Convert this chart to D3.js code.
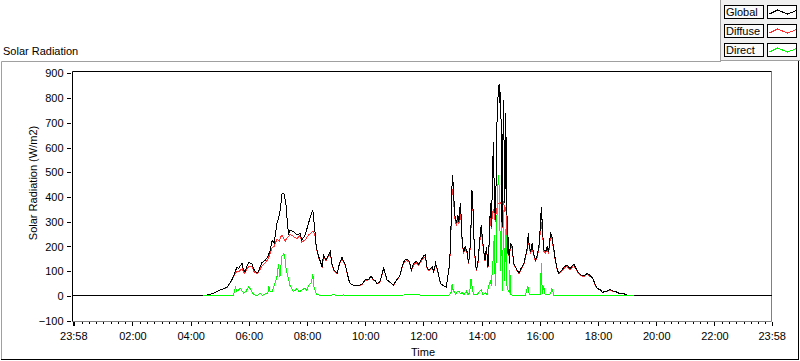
<!DOCTYPE html>
<html><head><meta charset="utf-8">
<script src="https://cdn.jsdelivr.net/npm/d3@7"></script>
<style>
html,body{margin:0;padding:0;background:#fff;}
svg{display:block;font-family:"Liberation Sans",Arial,sans-serif;font-size:11px;}
</style></head><body>
<svg id="chart" width="800" height="361"></svg>
<script>
// ---------------- DATA ----------------
const chartTitle = "Solar Radiation";
const yAxisTitle = "Solar Radiation (W/m2)";
const xAxisTitle = "Time";
const seriesNames = ["Global", "Diffuse", "Direct"];
const seriesColors = ["#000000", "#ff3333", "#00ff00"];
const yTickValues = [-100, 0, 100, 200, 300, 400, 500, 600, 700, 800, 900];
const xTickLabels = ["23:58","02:00","04:00","06:00","08:00","10:00","12:00","14:00","16:00","18:00","20:00","22:00","23:58"];

// times shared by Global and Diffuse (first entry is 23:58 of the previous day)
const time = ["23:58","04:26","04:47","05:01","05:15","05:25","05:32","05:35","05:39","05:46","05:49","05:52","05:59","06:06","06:10","06:17","06:20","06:27","06:34","06:39","06:44","06:48","06:52","06:58","07:03","07:06","07:08","07:12","07:15","07:17","07:20","07:22","07:25","07:32","07:39","07:46","07:49","07:56","08:03","08:09","08:12","08:16","08:19","08:24","08:31","08:34","08:39","08:44","08:48","08:51","08:55","09:02","09:07","09:12","09:19","09:22","09:26","09:29","09:36","09:46","09:53","10:00","10:07","10:12","10:17","10:21","10:24","10:30","10:35","10:38","10:41","10:45","10:52","10:58","11:05","11:11","11:16","11:21","11:26","11:31","11:35","11:40","11:45","11:50","11:56","12:00","12:04","12:07","12:11","12:18","12:21","12:25","12:29","12:35","12:42","12:47","12:50","12:54","12:57","12:59","13:00","13:02","13:04","13:08","13:11","13:13","13:16","13:18","13:20","13:23","13:26","13:30","13:33","13:37","13:40","13:42","13:45","13:49","13:52","13:56","13:59","14:02","14:04","14:07","14:10","14:13","14:16","14:18","14:20","14:22","14:24","14:26","14:28","14:30","14:32","14:34","14:36","14:37","14:39","14:41","14:42","14:43","14:45","14:46","14:48","14:49","14:51","14:53","14:55","14:57","14:59","15:03","15:06","15:10","15:13","15:17","15:21","15:27","15:30","15:34","15:36","15:38","15:41","15:44","15:47","15:51","15:54","15:58","16:01","16:03","16:06","16:08","16:12","16:15","16:18","16:22","16:25","16:29","16:32","16:36","16:39","16:46","16:49","16:56","17:02","17:10","17:18","17:24","17:31","17:38","17:44","17:49","17:53","17:58","18:05","18:09","18:16","18:25","18:30","18:36","18:43","18:53","19:00","19:14","23:58"];

const globalRad = [0,0,11,24,35,65,98,116,112,132,105,98,134,132,108,92,102,135,145,159,183,226,213,294,327,368,412,415,388,361,280,253,267,260,246,253,226,246,294,334,345,267,199,159,118,166,145,166,179,132,105,92,132,156,125,99,65,51,42,42,47,65,67,81,65,62,50,56,92,112,92,65,55,44,65,81,118,145,148,140,105,132,140,128,148,162,166,118,105,118,98,132,105,51,40,36,78,132,294,455,489,428,334,294,327,300,374,314,213,179,199,179,132,213,428,361,186,105,132,226,287,226,186,145,199,118,240,374,280,441,623,428,307,482,751,812,856,778,825,576,280,509,792,643,374,738,576,172,240,132,213,199,132,118,105,92,110,132,159,193,253,206,179,213,172,145,159,199,280,361,253,186,179,199,179,253,240,186,145,105,92,105,116,125,110,129,98,85,81,92,81,72,51,31,24,15,18,27,20,18,11,9,4,0,0];

const diffuseRad = [null,0,11,24,34,62,90,100,98,110,95,92,118,120,100,88,96,122,135,148,170,195,200,230,222,240,245,232,222,230,236,240,250,240,232,246,218,226,246,255,262,250,195,155,115,160,142,160,172,130,103,90,128,150,122,97,64,50,42,41,46,63,65,77,63,60,49,55,90,108,90,64,54,43,64,79,115,140,143,136,102,127,135,124,142,155,158,115,102,113,96,126,102,50,40,36,76,125,280,420,430,400,320,285,310,290,330,300,205,175,190,172,128,205,410,350,180,102,125,215,265,215,180,140,190,115,230,320,270,330,350,330,300,340,360,375,370,365,380,360,275,350,385,370,340,360,330,168,232,128,205,192,128,115,102,90,106,128,152,185,238,198,172,202,166,140,152,190,262,300,240,180,172,190,172,240,230,180,140,102,90,102,110,120,106,124,95,82,78,88,78,70,48,30,23,15,17,24,19,17,11,9,4,0,null];

const directTime = ["04:26","05:28","05:32","05:35","05:39","05:42","05:49","05:54","05:59","06:03","06:06","06:10","06:17","06:23","06:28","06:34","06:39","06:41","06:44","06:48","06:54","06:58","07:01","07:04","07:08","07:12","07:15","07:17","07:22","07:25","07:32","07:39","07:44","07:49","07:56","07:59","08:03","08:09","08:12","08:14","08:19","08:26","08:40","08:55","09:02","09:16","09:29","09:50","10:10","10:35","11:00","11:20","11:45","12:00","12:14","12:52","12:57","12:59","13:01","13:06","13:09","13:13","13:16","13:20","13:23","13:29","13:31","13:35","13:38","13:41","13:43","13:50","13:56","13:59","14:03","14:08","14:11","14:14","14:18","14:20","14:22","14:24","14:26","14:28","14:30","14:32","14:34","14:35","14:37","14:39","14:41","14:43","14:45","14:47","14:50","14:52","14:55","14:57","14:58","15:00","15:06","15:30","15:35","15:38","15:47","16:01","16:03","16:05","16:08","16:11","16:22","16:25","16:29","17:03","17:46","17:48","19:14"];
const directRad = [0,0,35,20,24,32,12,18,36,29,19,5,1,12,3,9,9,39,18,18,52,78,127,78,159,172,145,105,65,41,18,29,16,24,32,22,41,55,87,39,7,3,1,5,2,4,1,2,1,3,1,4,5,3,1,1,15,48,25,8,15,20,8,15,5,20,5,12,67,30,8,5,18,25,5,12,5,36,63,40,105,159,246,40,159,361,469,489,380,100,294,20,347,60,270,40,20,15,105,5,1,2,40,8,5,5,132,8,40,5,8,30,3,2,2,0,0];

// ---------------- HELPERS ----------------
function toMinutes(s, i) {
  const [h, m] = s.split(":").map(Number);
  let v = h * 60 + m;
  if (i === 0 && v > 720) v -= 1440; // previous day start
  return v;
}
const tMin = time.map(toMinutes);
const dMin = directTime.map(toMinutes);
const xTickVals = xTickLabels.map(toMinutes);

// ---------------- LAYOUT ----------------
const svg = d3.select("#chart");
const plot = {left: 72.5, right: 771.5, top: 71.5, bottom: 321.5};
const x = d3.scaleLinear().domain([xTickVals[0], xTickVals[xTickVals.length - 1]]).range([73.3, 771.7]);
const y = d3.scaleLinear().domain([-100, 900]).range([320.7, 73.3]);

// outer frame
svg.append("line").attr("x1",1.5).attr("x2",1.5).attr("y1",61.5).attr("y2",359.5).attr("stroke","#a0a0a0");
svg.append("line").attr("x1",1.5).attr("x2",721).attr("y1",61.5).attr("y2",61.5).attr("stroke","#a0a0a0");
svg.append("line").attr("x1",798.5).attr("x2",798.5).attr("y1",61).attr("y2",360).attr("stroke","#000");
svg.append("line").attr("x1",1).attr("x2",799).attr("y1",359.5).attr("y2",359.5).attr("stroke","#000");

// legend panel
svg.append("rect").attr("x",720.5).attr("y",-1).attr("width",81).attr("height",61.5)
  .attr("fill","#f0f0f0").attr("stroke","#a0a0a0");

// title
svg.append("text").attr("x",3).attr("y",55).attr("fill","#000").text(chartTitle);

// plot area
svg.append("rect").attr("x",plot.left).attr("y",plot.top).attr("width",plot.right-plot.left).attr("height",plot.bottom-plot.top).attr("fill","#fff");
svg.append("defs").append("clipPath").attr("id","clip").append("rect")
  .attr("x",plot.left).attr("y",plot.top-0.5).attr("width",plot.right-plot.left+1).attr("height",plot.bottom-plot.top+0.5);

// plot borders
svg.append("line").attr("x1",plot.right).attr("x2",plot.right).attr("y1",plot.top).attr("y2",plot.bottom).attr("stroke","#808080");
svg.append("line").attr("x1",plot.left).attr("x2",plot.right).attr("y1",plot.bottom).attr("y2",plot.bottom).attr("stroke","#808080");
svg.append("line").attr("x1",plot.left).attr("x2",plot.right).attr("y1",plot.top).attr("y2",plot.top).attr("stroke","#000");
svg.append("line").attr("x1",plot.left).attr("x2",plot.left).attr("y1",plot.top).attr("y2",plot.bottom).attr("stroke","#000");

// y axis
const yAxis = svg.append("g").attr("transform","translate(70.5,0)")
  .call(d3.axisLeft(y).tickValues(yTickValues).tickSize(4).tickPadding(3).tickFormat(d3.format("d")));
yAxis.select(".domain").remove();
yAxis.selectAll("line").attr("stroke","#000").attr("shape-rendering","crispEdges");
yAxis.selectAll("text").attr("fill","#000").style("font-size","11px").style("font-family","'Liberation Sans',Arial,sans-serif");

// x axis minor
const minorVals = d3.range(15, 1440, 15).filter(v => v % 120 !== 0);
const xMinor = svg.append("g").attr("transform","translate(0,322)")
  .call(d3.axisBottom(x).tickValues(minorVals).tickSize(2).tickFormat(""));
xMinor.select(".domain").remove();
xMinor.selectAll("line").attr("stroke","#000").attr("shape-rendering","crispEdges");

// x axis major
const xMajor = svg.append("g").attr("transform","translate(0,322)")
  .call(d3.axisBottom(x).tickValues(xTickVals).tickSize(4).tickFormat((d,i) => xTickLabels[i]));
xMajor.select(".domain").remove();
xMajor.selectAll("line").attr("stroke","#000").attr("shape-rendering","crispEdges");
xMajor.selectAll("line").filter((d,i) => i === 0).attr("stroke-width",2);
xMajor.selectAll("text").attr("y",18).attr("dy",0).attr("fill","#000")
  .style("font-size","11px").style("font-family","'Liberation Sans',Arial,sans-serif");

// axis titles
svg.append("text").attr("transform","translate(37,183) rotate(-90)").attr("text-anchor","middle").attr("fill","#000").text(yAxisTitle);
svg.append("text").attr("x",423).attr("y",356).attr("text-anchor","middle").attr("fill","#000").text(xAxisTitle);

// series
const g = svg.append("g").attr("clip-path","url(#clip)");
const lineGen = d3.line().defined(d => d[1] !== null).x(d => x(d[0])).y(d => y(d[1]));
const diffusePts = tMin.map((t,i) => [t, diffuseRad[i]]);
const globalPts = tMin.map((t,i) => [t, globalRad[i]]);
const directPts = dMin.map((t,i) => [t, directRad[i]]);
g.append("path").datum(diffusePts).attr("d",lineGen).attr("fill","none").attr("stroke",seriesColors[1]).attr("stroke-width",1).attr("shape-rendering","crispEdges");
g.append("path").datum(globalPts).attr("d",lineGen).attr("fill","none").attr("stroke",seriesColors[0]).attr("stroke-width",1).attr("shape-rendering","crispEdges");
g.append("path").datum(directPts).attr("d",lineGen).attr("fill","none").attr("stroke",seriesColors[2]).attr("stroke-width",1).attr("shape-rendering","crispEdges");

// legend
const swatchShape = [[2,8.5],[10,4.5],[20,8.5],[29,5]];
seriesNames.forEach((name, i) => {
  const yy = 5.5 + i * 19;
  svg.append("rect").attr("x",724.5).attr("y",yy).attr("width",39).attr("height",13).attr("fill","#fafafa").attr("stroke","#000");
  svg.append("text").attr("x",726).attr("y",yy+10.5).attr("fill","#000").text(name);
  svg.append("rect").attr("x",767.5).attr("y",yy).attr("width",29).attr("height",13).attr("fill","#fff").attr("stroke","#000");
  svg.append("path").attr("d", d3.line()(swatchShape.map(p => [767.5 + p[0], yy + p[1]])))
    .attr("fill","none").attr("stroke",seriesColors[i]).attr("shape-rendering","crispEdges");
});
</script>
</body></html>
